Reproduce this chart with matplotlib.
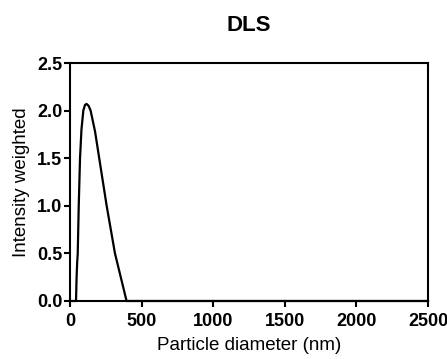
import matplotlib
matplotlib.use("Agg")
import matplotlib.pyplot as plt

plt.rcParams['font.family'] = ['Liberation Sans', 'DejaVu Sans']

diameter_nm = [0, 42, 46, 50, 54, 61, 70, 80, 93, 105, 116, 130, 144, 175, 204, 256, 314, 395, 2500]
intensity = [0, 0, 0.25, 0.4, 0.5, 1.0, 1.5, 1.8, 2.0, 2.06, 2.07, 2.05, 2.0, 1.78, 1.5, 1.0, 0.5, 0, 0]

x_ticks = [0, 500, 1000, 1500, 2000, 2500]
y_ticks = [0.0, 0.5, 1.0, 1.5, 2.0, 2.5]

fig = plt.figure(figsize=(4.47, 3.59), dpi=100)
ax = fig.add_axes([0.1566, 0.1616, 0.8009, 0.6629])
ax.plot(diameter_nm, intensity, color='black', lw=1.6, clip_on=False,
        solid_joinstyle='round')
ax.set_xlim(0, 2500)
ax.set_ylim(0, 2.5)
ax.set_xticks(x_ticks)
ax.set_yticks(y_ticks)
ax.set_xticklabels([str(v) for v in x_ticks], fontweight='bold', fontsize=13)
ax.set_yticklabels([f"{v:.1f}" for v in y_ticks], fontweight='bold', fontsize=13)
for s in ax.spines.values():
    s.set_linewidth(1.5)
ax.tick_params(direction='out', length=4.5, width=1.5)
ax.tick_params(axis='x', pad=4.5)
ax.tick_params(axis='y', pad=1)
ax.set_xlabel('Particle diameter (nm)', fontsize=13.5, labelpad=5)
ax.set_ylabel('Intensity weighted', fontsize=13.5, labelpad=5)
ax.set_title('DLS', fontsize=16, fontweight='bold', pad=23)
fig.savefig('out.png', dpi=100)
